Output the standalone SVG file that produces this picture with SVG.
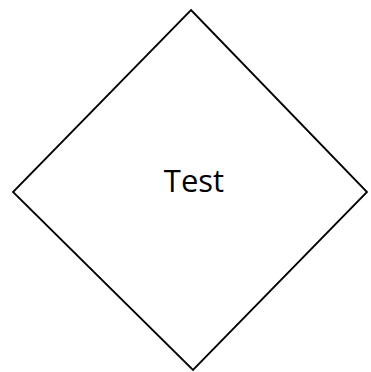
<svg xmlns="http://www.w3.org/2000/svg" width="371" height="372" viewBox="0 0 371 372">
<style>
.shape{fill:#ffffff;stroke:#000000;stroke-width:1.8}
.label{font-family:"Open Sans","DejaVu Sans",sans-serif;font-size:31px;fill:#000000;text-anchor:middle}
</style>
<rect width="371" height="372" fill="#ffffff"/>
<g id="connectors"></g>
<g id="node-test">
<polygon class="shape" points="191,10 367,192 193,370 13,192"/>
<text class="label" x="194" y="192">Test</text>
</g>
</svg>
